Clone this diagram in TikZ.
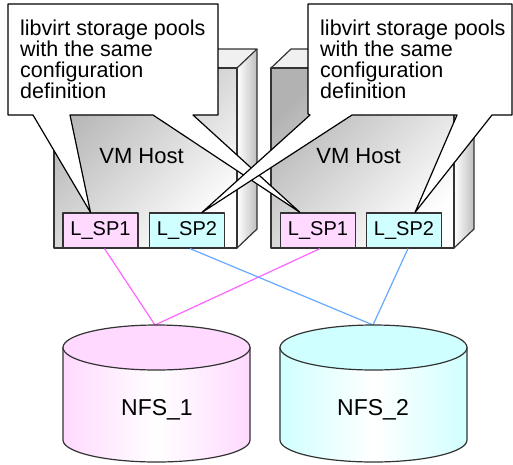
\documentclass[tikz,border=0pt]{standalone}
\usepackage{fontspec}
\setmainfont{Liberation Sans}
\usetikzlibrary{calc}
\definecolor{pinkf}{HTML}{FFD9FF}
\definecolor{cyanf}{HTML}{D0FFFF}
\definecolor{pinkl}{HTML}{FF66FF}
\definecolor{bluel}{HTML}{66AAFF}
\definecolor{edge}{HTML}{333333}
\begin{document}
\begin{tikzpicture}[x=1pt,y=-1pt,line join=round,
  outl/.style={draw=edge,line width=1.2pt},
  pool/.style={outl,minimum width=75pt,minimum height=35pt,inner sep=0pt,font=\fontsize{20}{20}\selectfont},
  spone/.style={pool,fill=pinkf},
  sptwo/.style={pool,fill=cyanf},
  callout/.style={draw=black,line width=1.2pt,fill=white},
  ctext/.style={anchor=north west,inner sep=0pt,align=left,font=\fontsize{21.5}{21}\selectfont},
  hostlbl/.style={inner sep=0pt,anchor=base,font=\fontsize{22}{22}\selectfont},
  nfslbl/.style={inner sep=0pt,font=\fontsize{23}{23}\selectfont},
  link/.style={line width=1.2pt}
]
\useasboundingbox (0,0) rectangle (513,464);
\fill[white] (0,0) rectangle (513,464);

% VM hosts (3D boxes)
\foreach \dx in {0,217} {
  \shade[top color=black!30,bottom color=white,shading angle=45] (54+\dx,68) rectangle (237+\dx,248);
  \fill[black!6] (54+\dx,68) -- (237+\dx,68) -- (257+\dx,49) -- (74+\dx,49) -- cycle;
  \shade[left color=white,right color=black!25] (237+\dx,68) -- (257+\dx,49) -- (257+\dx,229) -- (237+\dx,248) -- cycle;
  \draw[outl] (54+\dx,68) rectangle (237+\dx,248);
  \draw[outl] (54+\dx,68) -- (74+\dx,49) -- (257+\dx,49) -- (237+\dx,68);
  \draw[outl] (257+\dx,49) -- (257+\dx,229) -- (237+\dx,248);
}

\node[hostlbl] (h1) at (141.5,163) {VM Host};
\node[hostlbl] (h2) at (358.5,163) {VM Host};

\node[spone] (a1) at (100.5,230.5) {L\_SP1};
\node[sptwo] (a2) at (187,230.5) {L\_SP2};
\node[spone] (b1) at (318,230.5) {L\_SP1};
\node[sptwo] (b2) at (404,230.5) {L\_SP2};

% callouts
\draw[callout] (8,4) -- (218,4) -- (218,115) -- (193,115) -- ($(b1.north)+(-18,0)$)
  -- (153,115) -- (70,115) -- ($(a1.north)+(-10,0)$) -- (33,115) -- (8,115) -- cycle;
\draw[callout] (308,4) -- (512,4) -- (512,115) -- (492,115) -- ($(b2.north)+(11,0)$)
  -- (457,115) -- (352,115) -- ($(a2.north)+(15,0)$) -- (310,115) -- (308,114) -- cycle;
\node[ctext] (t1) at (20,20) {libvirt storage pools\\with the same\\configuration\\definition};
\node[ctext] (t2) at (320,20) {libvirt storage pools\\with the same\\configuration\\definition};

% connectors
\coordinate (c1) at (155,325);
\coordinate (c2) at (373,325);
\draw[link,pinkl] ([xshift=4pt]a1.south) -- (c1);
\draw[link,pinkl] ([xshift=2pt]b1.south) -- (c1);
\draw[link,bluel] ([xshift=3pt]a2.south) -- (c2);
\draw[link,bluel] ([xshift=4pt]b2.south) -- (c2);

% NFS cylinders
\shade[left color=pinkf,right color=pinkf,middle color=white] (63,347) -- (63,440)
  arc[start angle=180,end angle=0,x radius=93.5,y radius=22] -- (250,347) -- cycle;
\draw[outl] (63,347) -- (63,440) arc[start angle=180,end angle=0,x radius=93.5,y radius=22] -- (250,347);
\draw[outl,fill=pinkf] (156.5,347.5) ellipse[x radius=93.5,y radius=22.5];

\shade[left color=cyanf,right color=cyanf,middle color=white] (280,347) -- (280,440)
  arc[start angle=180,end angle=0,x radius=93.5,y radius=22] -- (467,347) -- cycle;
\draw[outl] (280,347) -- (280,440) arc[start angle=180,end angle=0,x radius=93.5,y radius=22] -- (467,347);
\draw[outl,fill=cyanf] (373.5,347.5) ellipse[x radius=93.5,y radius=22.5];

\node[nfslbl] (n1) at (157,410) {NFS\_1};
\node[nfslbl] (n2) at (373,410) {NFS\_2};
\end{tikzpicture}
\end{document}
